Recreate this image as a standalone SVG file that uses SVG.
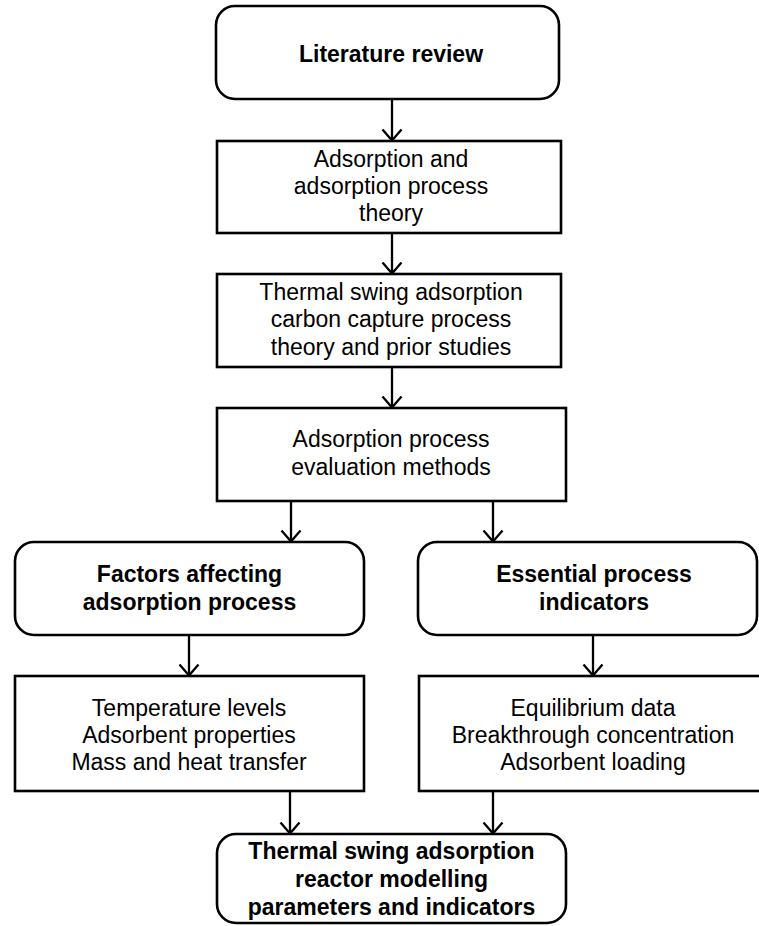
<svg xmlns="http://www.w3.org/2000/svg" width="759" height="926" viewBox="0 0 759 926">
<style>
.box{fill:#fff;stroke:#000;stroke-width:2.6}
.t{font-family:"Liberation Sans",Arial,sans-serif;font-size:23px;fill:#000;text-anchor:middle}
.b{font-weight:bold}
.c{fill:none;stroke:#000;stroke-width:2.3}
</style>
<defs>
<marker id="ah" markerUnits="userSpaceOnUse" viewBox="0 0 14 22" markerWidth="14" markerHeight="22" refX="12.5" refY="11" orient="auto">
<path d="M1,1.5 L12,11 L1,20.5" fill="none" stroke="#000" stroke-width="2.3"/>
</marker>
</defs>
<rect width="759" height="926" fill="#fff"/>
<g id="connectors">
<line class="c" x1="392" y1="99" x2="392" y2="141" marker-end="url(#ah)"/>
<line class="c" x1="392" y1="233" x2="392" y2="274" marker-end="url(#ah)"/>
<line class="c" x1="392" y1="367" x2="392" y2="408" marker-end="url(#ah)"/>
<line class="c" x1="291" y1="501" x2="291" y2="542" marker-end="url(#ah)"/>
<line class="c" x1="493" y1="501" x2="493" y2="542" marker-end="url(#ah)"/>
<line class="c" x1="189" y1="635" x2="189" y2="676" marker-end="url(#ah)"/>
<line class="c" x1="593" y1="635" x2="593" y2="676" marker-end="url(#ah)"/>
<line class="c" x1="290" y1="791" x2="290" y2="834" marker-end="url(#ah)"/>
<line class="c" x1="493" y1="791" x2="493" y2="834" marker-end="url(#ah)"/>
</g>
<g id="literature-review">
<rect class="box" x="216" y="6" width="343" height="93" rx="19"/>
<text class="t b" x="391" y="62">Literature review</text>
</g>
<g id="adsorption-theory">
<rect class="box" x="217" y="141" width="344" height="92"/>
<text class="t" x="391" y="167">Adsorption and</text>
<text class="t" x="391" y="194">adsorption process</text>
<text class="t" x="391" y="221">theory</text>
</g>
<g id="tsa-theory">
<rect class="box" x="217" y="274" width="344" height="93"/>
<text class="t" x="391" y="300">Thermal swing adsorption</text>
<text class="t" x="391" y="327">carbon capture process</text>
<text class="t" x="391" y="355">theory and prior studies</text>
</g>
<g id="evaluation-methods">
<rect class="box" x="217" y="408" width="349" height="93"/>
<text class="t" x="391" y="447">Adsorption process</text>
<text class="t" x="391" y="475">evaluation methods</text>
</g>
<g id="factors">
<rect class="box" x="15" y="542" width="349" height="93" rx="19"/>
<text class="t b" x="189.5" y="582">Factors affecting</text>
<text class="t b" x="189.5" y="610">adsorption process</text>
</g>
<g id="indicators">
<rect class="box" x="418" y="542" width="339" height="93" rx="19"/>
<text class="t b" x="594" y="582">Essential process</text>
<text class="t b" x="594" y="610">indicators</text>
</g>
<g id="factor-list">
<rect class="box" x="15" y="676" width="349" height="115"/>
<text class="t" x="189" y="716">Temperature levels</text>
<text class="t" x="189" y="743">Adsorbent properties</text>
<text class="t" x="189" y="770">Mass and heat transfer</text>
</g>
<g id="indicator-list">
<rect class="box" x="419" y="676" width="350" height="115"/>
<text class="t" x="593" y="716">Equilibrium data</text>
<text class="t" x="593" y="743">Breakthrough concentration</text>
<text class="t" x="593" y="770">Adsorbent loading</text>
</g>
<g id="tsa-modelling">
<rect class="box" x="217" y="834" width="349" height="89" rx="19"/>
<text class="t b" x="391.5" y="859">Thermal swing adsorption</text>
<text class="t b" x="391.5" y="887">reactor modelling</text>
<text class="t b" x="391.5" y="915">parameters and indicators</text>
</g>
</svg>
